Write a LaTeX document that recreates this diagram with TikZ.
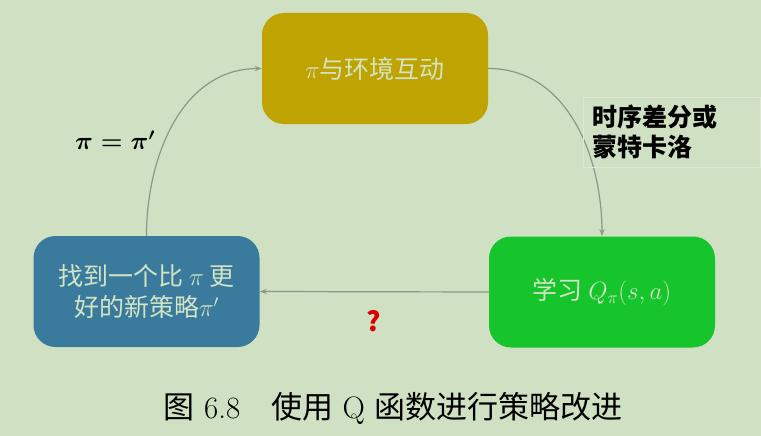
\documentclass[tikz,border=0pt]{standalone}
\usepackage{amsmath}
\usepackage{fontspec}
\newfontfamily\cjk{Noto Sans CJK SC}
\usetikzlibrary{arrows.meta, positioning, calc}
\usepackage{xcolor}
\definecolor{bgsage}{HTML}{CFE0C3}
\definecolor{olivebox}{HTML}{BFA300}
\definecolor{bluebox}{HTML}{397A9D}
\definecolor{greenbox}{HTML}{16C42B}
\definecolor{boxtext}{HTML}{D2E4C4}
\definecolor{linegray}{HTML}{8A9888}

\begin{document}
\begin{tikzpicture}[
    x=1pt, y=-1pt,
    block/.style={rounded corners=22pt, minimum width=226pt,
                  minimum height=111pt, align=center, text=boxtext,
                  font=\fontsize{25}{31}\selectfont\cjk},
    arrow/.style={-{Stealth[length=7pt, width=5pt]}, line width=1.2pt, draw=linegray},
]
    % Background
    \fill[bgsage] (0,0) rectangle (761,436);
    \useasboundingbox (0,0) rectangle (761,436);

    % Three boxes
    \node[block, fill=olivebox] (interact) at (375,68.5) {$\pi$与环境互动};
    \node[block, fill=bluebox]  (improve)  at (146.5,291.5) {找到一个比 $\pi$ 更\\好的新策略$\pi'$};
    \node[block, fill=greenbox] (learnq)   at (602,292) {学习 $Q_\pi(s,a)$};

    % Arrows
    \draw[arrow] (interact.east) to[out=0, in=90] (learnq.north);
    \draw[arrow] (learnq.west) -- (improve.east);
    \draw[arrow] (improve.north) to[out=90, in=180] (interact.west);

    % Labels
    \node[draw=white!30!bgsage, line width=0.8pt, minimum width=177pt, minimum height=70pt,
          text width=159pt, align=left, font=\fontsize{25}{30}\selectfont\cjk\bfseries]
          (method) at (671.5,132) {时序差分或\\蒙特卡洛};
    \node[font=\fontsize{24}{28}\selectfont\boldmath] (update) at (115,140) {$\pi=\pi'$};
    \node[text=red!85!black, font=\fontsize{27}{30}\selectfont\cjk\bfseries] (unknown) at (374,321) {?};

    % Caption
    \node[font=\fontsize{31}{34}\selectfont] (caption) at (393,408)
        {{\cjk 图} 6.8\quad{\cjk 使用} Q {\cjk 函数进行策略改进}};
\end{tikzpicture}
\end{document}
